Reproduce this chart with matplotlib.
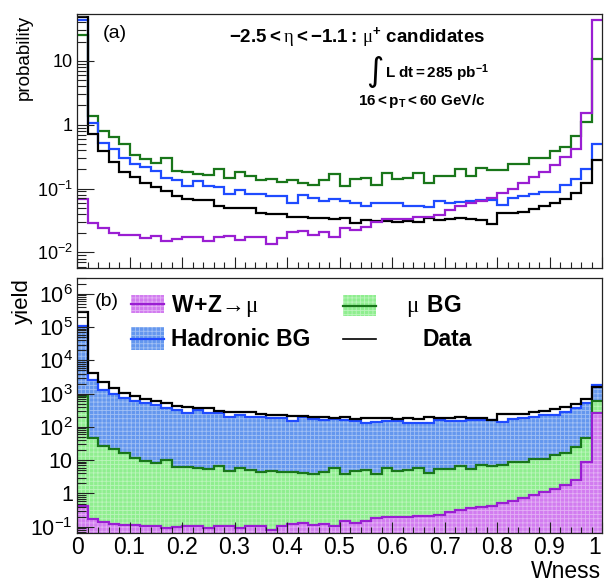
import numpy as np
import matplotlib
matplotlib.use("Agg")
import matplotlib.pyplot as plt
from matplotlib.ticker import (LogLocator, MultipleLocator, FixedLocator,
                               FuncFormatter, NullFormatter)
from matplotlib.patches import Rectangle
from matplotlib.lines import Line2D

plt.rcParams.update({
    "font.family": ["Liberation Sans", "DejaVu Sans"],
    "mathtext.fontset": "custom",
    "mathtext.rm": "Liberation Sans",
    "mathtext.bf": "Liberation Sans:bold",
    "mathtext.it": "Liberation Sans:italic",
    "mathtext.sf": "Liberation Serif",
    "hatch.linewidth": 0.6,
    "axes.linewidth": 0.9,
    "axes.edgecolor": "#222222",
})

# Wness binning: 50 bins of width 0.02 on [0, 1]
bin_edges = np.linspace(0.0, 1.0, 51)
bin_width = 0.02

# Normalised Wness shapes (probability density per unit Wness)
prob_data = np.array([
    49.0, 0.72, 0.38, 0.26, 0.18, 0.15, 0.12, 0.106, 0.092, 0.076,
    0.069, 0.066, 0.065, 0.053, 0.049, 0.049, 0.049, 0.042, 0.040, 0.040,
    0.036, 0.036, 0.035, 0.035, 0.033, 0.035, 0.029, 0.032, 0.031, 0.031,
    0.030, 0.031, 0.030, 0.035, 0.032, 0.033, 0.034, 0.033, 0.032, 0.028,
    0.042, 0.042, 0.043, 0.048, 0.053, 0.060, 0.068, 0.085, 0.120, 0.28])
prob_hadronic = np.array([
    44.0, 1.06, 0.52, 0.41, 0.30, 0.24, 0.22, 0.19, 0.146, 0.135,
    0.110, 0.130, 0.110, 0.104, 0.081, 0.096, 0.082, 0.082, 0.077, 0.077,
    0.060, 0.079, 0.071, 0.064, 0.068, 0.064, 0.060, 0.053, 0.059, 0.059,
    0.059, 0.053, 0.053, 0.052, 0.064, 0.060, 0.062, 0.064, 0.065, 0.065,
    0.055, 0.070, 0.076, 0.081, 0.089, 0.089, 0.113, 0.143, 0.205, 0.50])
prob_mu_bg = np.array([
    25.7, 1.36, 0.79, 0.64, 0.49, 0.34, 0.29, 0.25, 0.30, 0.19,
    0.18, 0.17, 0.16, 0.20, 0.145, 0.18, 0.156, 0.135, 0.14, 0.127,
    0.135, 0.123, 0.115, 0.135, 0.17, 0.11, 0.14, 0.146, 0.112, 0.175,
    0.14, 0.145, 0.175, 0.123, 0.157, 0.157, 0.20, 0.157, 0.21, 0.195,
    0.195, 0.245, 0.245, 0.30, 0.30, 0.39, 0.44, 0.66, 1.10, 10.5])
prob_wz = np.array([
    0.069, 0.029, 0.024, 0.020, 0.019, 0.0186, 0.017, 0.0178, 0.015, 0.016,
    0.0175, 0.0175, 0.015, 0.0175, 0.018, 0.0155, 0.0175, 0.0175, 0.0134, 0.017,
    0.0205, 0.0216, 0.019, 0.0205, 0.0175, 0.0245, 0.0223, 0.025, 0.030, 0.033,
    0.033, 0.033, 0.036, 0.036, 0.038, 0.046, 0.053, 0.060, 0.064, 0.070,
    0.085, 0.100, 0.120, 0.150, 0.180, 0.230, 0.310, 0.420, 1.50, 44.0])

# Sample sizes that turn the shapes into per-bin yields
n_data = 290000
n_hadronic = 120000
n_mu_bg = 1650
n_wz = 300

# Labelled decades on each panel
top_decades = [1e-2, 1e-1, 1, 10]
bottom_decades = [1e-1, 1, 10, 1e2, 1e3, 1e4, 1e5, 1e6]

yield_data = prob_data * n_data * bin_width
yield_hadronic = prob_hadronic * n_hadronic * bin_width
yield_mu_bg = prob_mu_bg * n_mu_bg * bin_width
yield_wz = prob_wz * n_wz * bin_width

stack_wz = yield_wz
stack_mu = stack_wz + yield_mu_bg
stack_had = stack_mu + yield_hadronic

C_WZ_LINE, C_WZ_FILL = "#9a1ed2", "#d27cf0"
C_MU_LINE, C_MU_FILL = "#19761a", "#8fee8f"
C_HAD_LINE, C_HAD_FILL = "#1f4bff", "#6497ee"
HATCH_RGBA = (1, 1, 1, 0.4)

W, H = 606, 583
fig = plt.figure(figsize=(W / 100, H / 100), dpi=100)


def fx(px):
    return px / W


def fy(py):
    return 1 - py / H


ax_top = fig.add_axes([fx(77), fy(268), 525 / W, 254 / H])
ax_bot = fig.add_axes([fx(77), fy(533), 525 / W, 255.5 / H])


def decade_label(v, pos):
    e = int(round(np.log10(v)))
    if e == 0:
        return "1"
    if e == 1:
        return "10"
    return r"$\mathregular{10^{%d}}$" % e


def wness_label(v, pos):
    # the label at the right edge is placed separately so it stays on the canvas
    if v > 0.99:
        return ""
    return "%g" % round(v, 2)


def style_axis(ax, decades, ylabel_size):
    ax.set_yscale("log")
    ax.set_xlim(0, 1)
    ax.xaxis.set_major_locator(MultipleLocator(0.1))
    ax.xaxis.set_minor_locator(MultipleLocator(0.02))
    ax.yaxis.set_major_locator(FixedLocator(decades))
    ax.yaxis.set_minor_locator(LogLocator(base=10, subs=np.arange(2, 10), numticks=50))
    ax.yaxis.set_minor_formatter(NullFormatter())
    ax.yaxis.set_major_formatter(FuncFormatter(decade_label))
    ax.tick_params(which="both", direction="in", top=False, right=False,
                   width=0.8, color="#222222")
    ax.tick_params(axis="x", which="major", length=8)
    ax.tick_params(axis="x", which="minor", length=4.3)
    ax.tick_params(axis="y", which="major", length=12.5, labelsize=ylabel_size, pad=3)
    ax.tick_params(axis="y", which="minor", length=6.5)


# ---- (a) normalised shapes
for vals, col in [(prob_mu_bg, C_MU_LINE), (prob_hadronic, C_HAD_LINE),
                  (prob_data, "black"), (prob_wz, C_WZ_LINE)]:
    ax_top.stairs(vals, bin_edges, baseline=None, color=col, lw=1.6)
style_axis(ax_top, top_decades, 13)
ax_top.set_ylim(0.0057, 54)
ax_top.tick_params(axis="x", labelbottom=False)


# ---- (b) stacked yields
def stacked(ax, vals, face, line):
    ax.stairs(vals, bin_edges, baseline=1e-3, fill=True, facecolor=face,
              edgecolor="none", lw=0)
    ax.stairs(vals, bin_edges, baseline=1e-3, fill=True, facecolor="none",
              edgecolor=HATCH_RGBA, hatch="++++", lw=0)
    ax.stairs(vals, bin_edges, baseline=None, color=line, lw=1.6)


stacked(ax_bot, stack_had, C_HAD_FILL, C_HAD_LINE)
stacked(ax_bot, stack_mu, C_MU_FILL, C_MU_LINE)
stacked(ax_bot, stack_wz, C_WZ_FILL, C_WZ_LINE)
ax_bot.stairs(yield_data, bin_edges, baseline=None, color="black", lw=1.6)
style_axis(ax_bot, bottom_decades, 15.5)
ax_bot.set_ylim(0.065, 3.1e6)
ax_bot.xaxis.set_major_formatter(FuncFormatter(wness_label))
ax_bot.tick_params(axis="x", which="major", labelsize=16.5, pad=2)
ax_bot.text(1.0, -0.012, r"$\mathregular{1}$", transform=ax_bot.transAxes,
            ha="right", va="top", fontsize=16.5)

# ---- axis titles
fig.text(fx(24), fy(15), "probability", rotation=90, ha="center", va="top", fontsize=13.5)
fig.text(fx(22), fy(278), "yield", rotation=90, ha="center", va="top", fontsize=16)
fig.text(fx(601), fy(577.5), "Wness", ha="right", va="baseline", fontsize=16.5)

# ---- annotations in panel (a)
fig.text(fx(103), fy(38), "(a)", ha="left", va="baseline", fontsize=14)
fig.text(fx(357), fy(42),
         r"$\mathbf{-2.5 < }\mathsf{\eta}\mathbf{ < -1.1:}\,\mathsf{\mu}^{\mathbf{+}}\mathbf{\ candidates}$",
         ha="center", va="baseline", fontsize=13.5)
fig.text(fx(375), fy(72), "\u222b", ha="center", va="center", fontsize=24,
         family=["DejaVu Sans"])
fig.text(fx(385), fy(77.5), r"$\mathbf{L\ dt = 285\ }\mathbf{pb}^{\mathbf{-1}}$",
         ha="left", va="baseline", fontsize=11)
fig.text(fx(485), fy(105), r"$\mathbf{16 < }\mathbf{p}_{\mathbf{T}}\mathbf{ < 60\ GeV/c}$",
         ha="right", va="baseline", fontsize=11)

# ---- legend in panel (b)
fig.text(fx(95), fy(306), "(b)", ha="left", va="baseline", fontsize=14)


def swatch(x0, y0, x1, y1, face, line):
    xy = (fx(x0), fy(y1))
    w, h = (x1 - x0) / W, (y1 - y0) / H
    fig.add_artist(Rectangle(xy, w, h, transform=fig.transFigure,
                             facecolor=face, edgecolor="none"))
    fig.add_artist(Rectangle(xy, w, h, transform=fig.transFigure, facecolor="none",
                             edgecolor=HATCH_RGBA, hatch="++++", lw=0))
    ym = fy((y0 + y1) / 2)
    fig.add_artist(Line2D([fx(x0), fx(x1)], [ym, ym], transform=fig.transFigure,
                          color=line, lw=1.6))


swatch(131, 295, 164, 313, C_WZ_FILL, C_WZ_LINE)
swatch(131, 327, 164, 350, C_HAD_FILL, C_HAD_LINE)
swatch(343, 295, 376, 316, C_MU_FILL, C_MU_LINE)
fig.add_artist(Line2D([fx(343), fx(376)], [fy(338.5), fy(338.5)],
                      transform=fig.transFigure, color="black", lw=1.2))

fig.text(fx(171), fy(312), r"$\mathbf{W\!+\!Z}\!\mathsf{\rightarrow\!\mu}$",
         ha="left", va="baseline", fontsize=16.5)
fig.text(fx(171), fy(346), "Hadronic BG", ha="left", va="baseline",
         fontsize=16.5, weight="bold")
fig.text(fx(406), fy(312), r"$\mathsf{\mu}\;\,\mathbf{BG}$",
         ha="left", va="baseline", fontsize=16.5)
fig.text(fx(423), fy(346), "Data", ha="left", va="baseline",
         fontsize=16.5, weight="bold")

fig.savefig("out.png", dpi=100)
